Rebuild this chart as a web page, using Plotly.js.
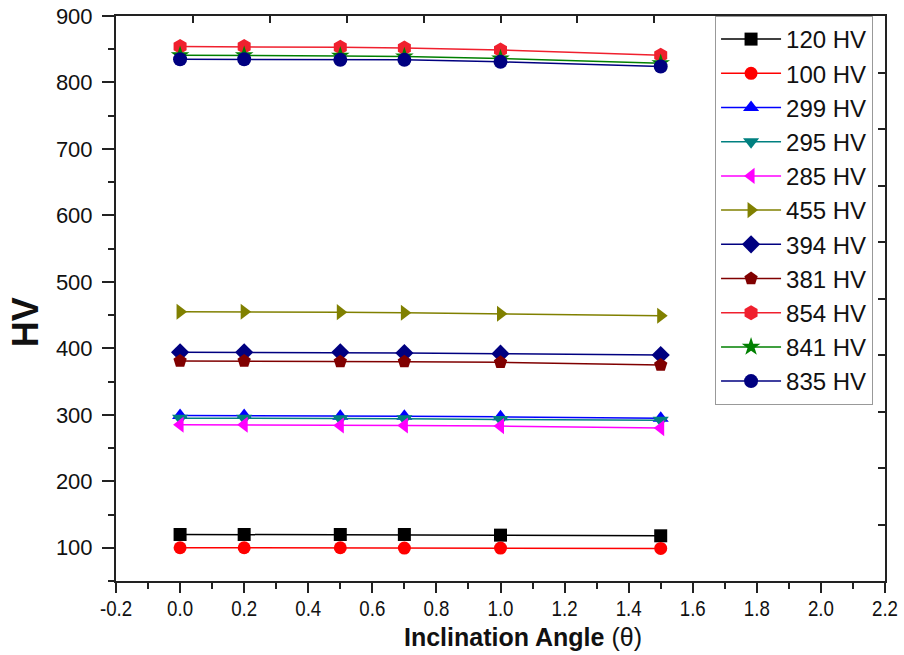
<!DOCTYPE html>
<html>
<head>
<meta charset="utf-8">
<script src="https://cdn.plot.ly/plotly-3.0.1.min.js"></script>
<style>html,body{margin:0;padding:0;background:#fff;}#chart{width:904px;height:655px;}</style>
</head>
<body>
<div id="chart"></div>
<script>
// Inclination angle (theta)
const angles = [0.0, 0.2, 0.5, 0.7, 1.0, 1.5];

// Series names
const seriesNames = ["120 HV", "100 HV", "299 HV", "295 HV", "285 HV", "455 HV", "394 HV", "381 HV", "854 HV", "841 HV", "835 HV"];

// Hardness values per series
const hv120 = [120, 120, 120, 120, 119, 118];
const hv100 = [100, 100, 100, 99.5, 99.5, 99];
const hv299 = [299, 299, 298, 298, 297, 295];
const hv295 = [295, 295, 294, 294, 293, 292];
const hv285 = [285, 285, 284, 284, 283, 280];
const hv455 = [455, 455, 454.5, 453.5, 452, 449];
const hv394 = [394, 394, 394, 393, 392, 390];
const hv381 = [381, 381, 380, 380, 379, 375];
const hv854 = [854, 854, 853, 852, 849, 841];
const hv841 = [841, 841, 840, 839, 836, 829];
const hv835 = [835, 835, 834, 834, 831, 824];

const seriesValues = [hv120, hv100, hv299, hv295, hv285, hv455, hv394, hv381, hv854, hv841, hv835];

// X tick labels
const xTickVals = [-0.2, 0.0, 0.2, 0.4, 0.6, 0.8, 1.0, 1.2, 1.4, 1.6, 1.8, 2.0, 2.2];
const xTickText = ["-0.2", "0.0", "0.2", "0.4", "0.6", "0.8", "1.0", "1.2", "1.4", "1.6", "1.8", "2.0", "2.2"];

const colors = ["#000000", "#FF0000", "#0000FF", "#008080", "#FF00FF", "#808000", "#000080", "#800000", "#F0202E", "#008000", "#000080"];
const symbols = ["square", "circle", "triangle-up", "triangle-down", "triangle-left", "triangle-right", "diamond", "pentagon", "hexagon", "star", "circle"];
const sizes = [13, 13, 14, 14, 14, 14, 14, 14, 15, 14, 14];

const traces = seriesNames.map((name, i) => ({
  type: "scatter",
  mode: "lines+markers",
  name: name,
  x: angles,
  y: seriesValues[i],
  line: {color: colors[i], width: 1.5},
  marker: {symbol: symbols[i], color: colors[i], size: sizes[i], line: {width: 0}}
}));

// empty trace so the mirrored frame axes (top / right) get drawn with their ticks
traces.push({type: "scatter", mode: "markers", x: [], y: [], xaxis: "x2", yaxis: "y2", showlegend: false, hoverinfo: "skip"});

const font = "Liberation Sans, Arial, sans-serif";

const layout = {
  width: 904,
  height: 655,
  margin: {l: 116, r: 19, t: 16, b: 74},
  paper_bgcolor: "#ffffff",
  plot_bgcolor: "#ffffff",
  showlegend: true,
  font: {family: font, color: "#111"},
  xaxis: {
    range: [-0.2, 2.2],
    tickmode: "array",
    tickvals: xTickVals,
    ticktext: xTickText,
    ticks: "outside",
    ticklen: 10,
    tickwidth: 2,
    tickcolor: "#222",
    minor: {dtick: 0.1, tick0: -0.2, ticks: "outside", ticklen: 6, tickwidth: 2, tickcolor: "#222"},
    showline: true,
    linecolor: "#222",
    linewidth: 2,
    showgrid: false,
    zeroline: false,
    ticklabelstandoff: -3,
    tickfont: {family: font, size: 22, color: "#111"}
  },
  yaxis: {
    range: [50, 900],
    dtick: 100,
    tick0: 0,
    ticks: "outside",
    ticklen: 12,
    tickwidth: 2,
    tickcolor: "#222",
    minor: {dtick: 50, ticks: "outside", ticklen: 6, tickwidth: 2, tickcolor: "#222"},
    showline: true,
    linecolor: "#222",
    linewidth: 2,
    showgrid: false,
    zeroline: false,
    ticklabelstandoff: 5,
    tickfont: {family: font, size: 22, color: "#111"}
  },
  xaxis2: {
    overlaying: "x",
    side: "top",
    anchor: "y2",
    range: [0, 10],
    dtick: 1,
    ticks: "inside",
    ticklen: 7,
    tickwidth: 2,
    tickcolor: "#222",
    showticklabels: false,
    showline: true,
    linecolor: "#222",
    linewidth: 2,
    showgrid: false,
    zeroline: false
  },
  yaxis2: {
    overlaying: "y",
    side: "right",
    anchor: "x2",
    range: [0, 10],
    dtick: 1,
    ticks: "inside",
    ticklen: 7,
    tickwidth: 2,
    tickcolor: "#222",
    showticklabels: false,
    showline: true,
    linecolor: "#222",
    linewidth: 2,
    showgrid: false,
    zeroline: false
  },
  legend: {
    x: 0.779,
    y: 1,
    xanchor: "left",
    yanchor: "top",
    bgcolor: "#ffffff",
    bordercolor: "#999999",
    borderwidth: 1,
    font: {family: font, size: 24, color: "#111"},
    itemwidth: 60,
    tracegroupgap: 0
  },
  annotations: [
    {
      xref: "paper", yref: "paper",
      x: 0.529, y: 0,
      yshift: -56,
      xanchor: "center", yanchor: "middle",
      showarrow: false,
      text: "<b>Inclination Angle</b> (θ)",
      font: {family: font, size: 25, color: "#111"}
    },
    {
      xref: "paper", yref: "paper",
      x: 0, y: 0.458,
      xshift: -91,
      xanchor: "center", yanchor: "middle",
      textangle: -90,
      showarrow: false,
      text: "<b>HV</b>",
      font: {family: font, size: 36, color: "#111"}
    }
  ]
};

Plotly.newPlot("chart", traces, layout, {displayModeBar: false, staticPlot: true}).then(function (gd) {
  // the reference uses a condensed face for the x tick labels: compress them horizontally
  gd.querySelectorAll(".xtick text").forEach(function (t) {
    const w = t.getComputedTextLength();
    t.setAttribute("textLength", (w * 0.85).toFixed(1));
    t.setAttribute("lengthAdjust", "spacingAndGlyphs");
  });
});
</script>
</body>
</html>
